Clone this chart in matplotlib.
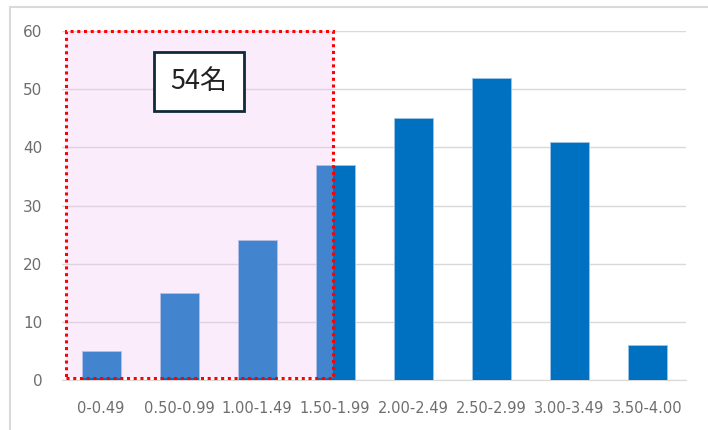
import matplotlib
matplotlib.use('Agg')
import matplotlib.pyplot as plt
from matplotlib.patches import Rectangle
from matplotlib.lines import Line2D

categories = ['0-0.49', '0.50-0.99', '1.00-1.49', '1.50-1.99',
              '2.00-2.49', '2.50-2.99', '3.00-3.49', '3.50-4.00']
counts = [5, 15, 24, 37, 45, 52, 41, 6]
yticks = [0, 10, 20, 30, 40, 50, 60]
note = '54名'

plt.rcParams['font.family'] = ['DejaVu Sans']

fig = plt.figure(figsize=(7.08, 4.30), dpi=100)
ax = fig.add_axes([62 / 708, 1 - 380 / 430, 624 / 708, 349 / 430])

# outer chart frame (left and top edges visible)
fig.add_artist(Line2D([10 / 708, 10 / 708], [0, 1 - 7 / 430], transform=fig.transFigure,
                      color='#d9d9d9', lw=1.5))
fig.add_artist(Line2D([10 / 708, 1], [1 - 7 / 430, 1 - 7 / 430], transform=fig.transFigure,
                      color='#d9d9d9', lw=1.5))

x = range(len(categories))
ax.bar(x, counts, width=0.5, color='#0070c0', edgecolor='#9dc3e6', linewidth=0.6, zorder=2)

ax.set_xlim(-0.5, 7.5)
ax.set_ylim(0, 60)
ax.set_yticks(yticks)
ax.set_xticks(list(x))
ax.set_xticklabels(categories)
ax.tick_params(axis='both', length=0, colors='#6e6e6e', labelsize=10.5)
ax.tick_params(axis='y', labelsize=11, pad=14)
ax.tick_params(axis='x', pad=15)
ax.grid(axis='y', color='#d9d9d9', lw=1, zorder=0)
for s in ['top', 'right', 'left']:
    ax.spines[s].set_visible(False)
ax.spines['bottom'].set_color('#d9d9d9')
ax.spines['bottom'].set_zorder(1)

# highlighted region
ax.add_patch(Rectangle((-0.45, 0.4), 3.42, 59.6, facecolor='#f3bbf3', alpha=0.28,
                       edgecolor='none', zorder=3, clip_on=False))
ax.add_patch(Rectangle((-0.45, 0.4), 3.42, 59.6, facecolor='none', edgecolor='#ff0000',
                       lw=2.2, linestyle=(0, (1, 1.2)), zorder=4, clip_on=False))

ax.text(1.26, 51.3, note, ha='center', va='center', fontsize=19.5, color='#222222', zorder=5,
        family=['Noto Sans CJK JP', 'DejaVu Sans'],
        bbox=dict(boxstyle='square,pad=0.6', facecolor='white', edgecolor='#0f2a38', lw=2))

fig.savefig('out.png', dpi=100)
